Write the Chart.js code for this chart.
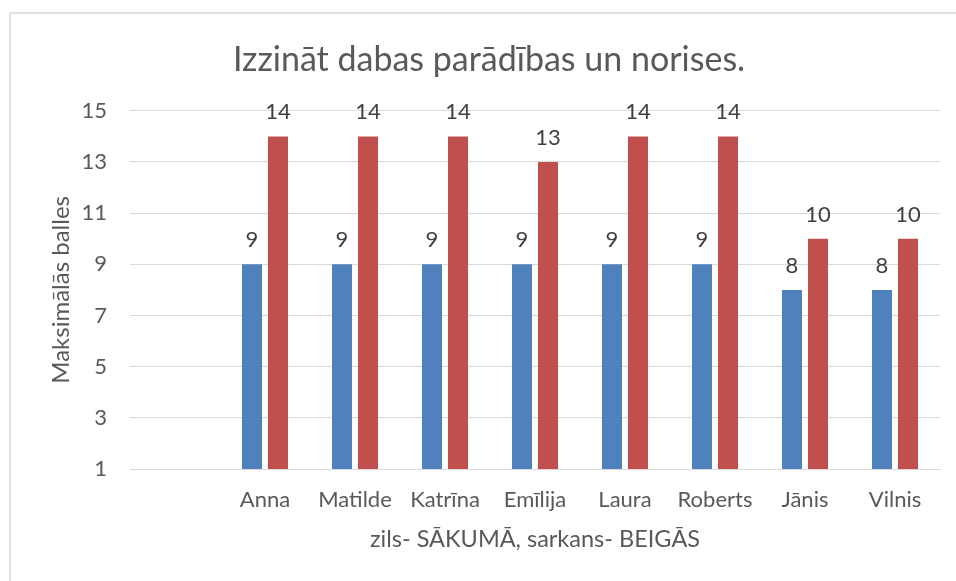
<!DOCTYPE html>
<html lang="lv">
<head>
    <meta charset="UTF-8">
    <title>Izzināt dabas parādības un norises.</title>
    <style>
        html, body {
            margin: 0;
            padding: 0;
            background: #fff;
        }
        .wrap {
            position: relative;
            width: 956px;
            height: 581px;
            overflow: hidden;
        }
        .frame {
            position: absolute;
            left: 9px;
            top: 12px;
            width: 1000px;
            height: 1000px;
            border-left: 2px solid #e0e0e0;
            border-top: 2px solid #e0e0e0;
        }
        canvas {
            position: absolute;
            left: 0;
            top: 0;
        }
    </style>
    <script src="https://cdn.jsdelivr.net/npm/chart.js"></script>
</head>
<body>
<div class="wrap">
    <div class="frame"></div>
    <canvas id="chart" width="956" height="581"></canvas>
</div>

<script>
    // dati
    const names = ['', 'Anna', 'Matilde', 'Katrīna', 'Emīlija', 'Laura', 'Roberts', 'Jānis', 'Vilnis'];
    const startScores = [null, 9, 9, 9, 9, 9, 9, 8, 8];   // zils - sākumā
    const endScores = [null, 14, 14, 14, 13, 14, 14, 10, 10]; // sarkans - beigās
    const yTicks = [1, 3, 5, 7, 9, 11, 13, 15];

    const FONT = "Lato, 'Open Sans', sans-serif";
    const GREY = '#595959';

    // vērtības virs stabiņiem
    const valueLabels = {
        id: 'valueLabels',
        afterDatasetsDraw(chart) {
            const ctx = chart.ctx;
            ctx.save();
            ctx.font = `22px ${FONT}`;
            ctx.fillStyle = '#404040';
            ctx.textAlign = 'center';
            ctx.textBaseline = 'middle';
            chart.data.datasets.forEach((ds, i) => {
                const meta = chart.getDatasetMeta(i);
                meta.data.forEach((bar, j) => {
                    const v = ds.data[j];
                    if (v === null || v === undefined) return;
                    ctx.fillText(String(v), bar.x, bar.y - 24);
                });
            });
            ctx.restore();
        }
    };

    new Chart(document.getElementById('chart'), {
        type: 'bar',
        data: {
            labels: names,
            datasets: [
                {
                    label: 'SĀKUMĀ',
                    data: startScores,
                    backgroundColor: '#4f81bd',
                    categoryPercentage: 0.578,
                    barPercentage: 0.77
                },
                {
                    label: 'BEIGĀS',
                    data: endScores,
                    backgroundColor: '#c0504d',
                    categoryPercentage: 0.578,
                    barPercentage: 0.77
                }
            ]
        },
        options: {
            responsive: false,
            animation: false,
            layout: {
                padding: { left: 38, right: 16, top: 0, bottom: 0 }
            },
            plugins: {
                legend: { display: false },
                tooltip: { enabled: false },
                title: {
                    display: true,
                    text: 'Izzināt dabas parādības un norises.',
                    color: GREY,
                    font: { family: FONT, size: 34, weight: 'normal' },
                    padding: { top: 40, bottom: 30 }
                }
            },
            scales: {
                x: {
                    grid: { display: false, drawTicks: false },
                    border: { display: true, color: '#d9d9d9', width: 1 },
                    ticks: {
                        color: GREY,
                        font: { family: FONT, size: 22 },
                        padding: 18,
                        maxRotation: 0,
                        autoSkip: false
                    },
                    title: {
                        display: true,
                        text: 'zils- SĀKUMĀ, sarkans- BEIGĀS',
                        color: GREY,
                        font: { family: FONT, size: 23.5 },
                        padding: { top: 0, bottom: 27 }
                    },
                    afterFit(scale) {
                        scale.height = 112;
                    }
                },
                y: {
                    min: 1,
                    max: 15,
                    grid: { color: '#d9d9d9', lineWidth: 1, drawTicks: false },
                    border: { display: false },
                    ticks: {
                        color: GREY,
                        font: { family: FONT, size: 22 },
                        padding: 23
                    },
                    afterBuildTicks(scale) {
                        scale.ticks = yTicks.map(v => ({ value: v }));
                    },
                    title: {
                        display: true,
                        text: 'Maksimālās balles',
                        color: GREY,
                        font: { family: FONT, size: 24 },
                        padding: { top: 9, bottom: 0 }
                    },
                    afterFit(scale) {
                        scale.width = 92;
                    }
                }
            }
        },
        plugins: [valueLabels]
    });
</script>
</body>
</html>
